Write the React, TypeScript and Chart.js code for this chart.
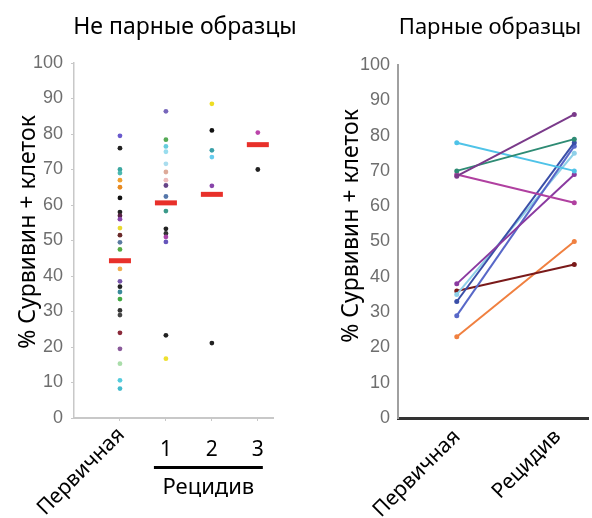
import React, { useEffect, useRef } from 'react';
import { Chart, registerables } from 'chart.js';

Chart.register(...registerables);

// ---------- Data ----------
const leftTitle = 'Не парные образцы';
const rightTitle = 'Парные образцы';
const yAxisTitle = '% Сурвивин + клеток';
const leftCategories = ['Первичная', '1', '2', '3'];
const relapseLabel = 'Рецидив';
const yTicks = [0, 10, 20, 30, 40, 50, 60, 70, 80, 90, 100];

const primaryValues = [79.5, 76, 70, 69, 67, 65, 62, 58, 57, 56, 53.5, 51.5, 49.5, 47.5, 42, 38.5, 37, 35.5, 33.5, 30.3, 29, 24, 19.5, 15.3, 10.6, 8.3];
const primaryColors = ['#6a5acd', '#222222', '#3ba7a0', '#4bb8b0', '#f0a030', '#e88a20', '#111111', '#222222', '#552244', '#8844aa', '#e8d830', '#6b2a2a', '#5a7aa0', '#55aa44', '#f0b050', '#7755aa', '#222222', '#3a8a9a', '#44aa44', '#333333', '#444444', '#8b2a3a', '#8a5a9a', '#aaddaa', '#55ccdd', '#44bbcc'];

const relapse1Values = [86.4, 78.4, 76.5, 75, 71.6, 69.3, 67, 65.5, 62.4, 58.3, 53.3, 52, 51, 49.6, 23.3, 16.7];
const relapse1Colors = ['#7766bb', '#55aa55', '#66ccdd', '#99ddee', '#aaddee', '#ddaa99', '#eebbbb', '#664488', '#5577aa', '#3a9a8a', '#222222', '#333333', '#aa44aa', '#6655bb', '#222222', '#eee030'];

const relapse2Values = [88.5, 81, 75.4, 73.5, 65.4, 21.1];
const relapse2Colors = ['#eedd22', '#111111', '#3aa0a8', '#66ccee', '#8844aa', '#222222'];

const relapse3Values = [80.4, 70];
const relapse3Colors = ['#bb44aa', '#222222'];

const medianValues = [44.3, 60.6, 63, 77];

const pairedCategories = ['Первичная', 'Рецидив'];
const pairedPrimary = [68.5, 70, 78, 69, 38, 33, 29, 35, 36, 23];
const pairedRelapse = [86, 79, 70, 61, 69, 78, 77, 75, 43.5, 50];
const pairedColors = ['#7a3a8a', '#2e8b74', '#4fc3e8', '#b040a0', '#8a3aa0', '#3a4fa8', '#5868c8', '#8fd0e8', '#7a1a1a', '#f08040'];

// ---------- Styles ----------
const W = 592;
const H = 518;
const TEXT_FONT = '"Noto Sans", "Open Sans", sans-serif';
const TICK_FONT = '"Liberation Sans", Arial, sans-serif';

const leftColumns = [primaryValues, relapse1Values, relapse2Values, relapse3Values];
const leftColors = [primaryColors, relapse1Colors, relapse2Colors, relapse3Colors];

const leftTextPlugin = {
  id: 'leftText',
  afterDraw(chart: any) {
    const ctx = chart.ctx;
    const xs = chart.scales.x;
    const bottom = chart.chartArea.bottom;
    ctx.save();
    ctx.fillStyle = '#000';
    ctx.font = `23px ${TEXT_FONT}`;
    ctx.textAlign = 'center';
    ctx.textBaseline = 'alphabetic';
    ctx.fillText(leftTitle, 185, 34);

    ctx.save();
    ctx.translate(28, 232);
    ctx.rotate(-Math.PI / 2);
    ctx.textBaseline = 'middle';
    ctx.font = `23px ${TEXT_FONT}`;
    ctx.fillText(yAxisTitle, 0, 0);
    ctx.restore();

    // rotated primary label
    ctx.save();
    ctx.translate(xs.getPixelForValue(1) - 6, bottom + 6);
    ctx.rotate(-Math.PI / 4);
    ctx.textAlign = 'right';
    ctx.textBaseline = 'top';
    ctx.font = `21px ${TEXT_FONT}`;
    ctx.fillText(leftCategories[0], 0, 0);
    ctx.restore();

    ctx.font = `21px ${TEXT_FONT}`;
    ctx.textAlign = 'center';
    ctx.textBaseline = 'middle';
    for (let i = 1; i < leftCategories.length; i++) {
      ctx.fillText(leftCategories[i], xs.getPixelForValue(i + 1), bottom + 32);
    }
    const x1 = xs.getPixelForValue(2) - 12;
    const x2 = xs.getPixelForValue(4) + 5;
    ctx.fillRect(x1, bottom + 48, x2 - x1, 3);
    ctx.font = `22px ${TEXT_FONT}`;
    ctx.fillText(relapseLabel, (x1 + x2) / 2, bottom + 70);
    ctx.restore();
  },
};

const rightTextPlugin = {
  id: 'rightText',
  afterDraw(chart: any) {
    const ctx = chart.ctx;
    const xs = chart.scales.x;
    const bottom = chart.chartArea.bottom;
    ctx.save();
    ctx.fillStyle = '#000';
    ctx.font = `22px ${TEXT_FONT}`;
    ctx.textAlign = 'center';
    ctx.textBaseline = 'alphabetic';
    ctx.fillText(rightTitle, 490, 34);

    ctx.save();
    ctx.translate(351, 226);
    ctx.rotate(-Math.PI / 2);
    ctx.textBaseline = 'middle';
    ctx.font = `23px ${TEXT_FONT}`;
    ctx.fillText(yAxisTitle, 0, 0);
    ctx.restore();

    const dx = [-7, -24];
    pairedCategories.forEach((label, i) => {
      ctx.save();
      ctx.translate(xs.getPixelForValue(i + 0.5) + dx[i], bottom + 8);
      ctx.rotate(-Math.PI / 4);
      ctx.textAlign = 'right';
      ctx.textBaseline = 'top';
      ctx.font = `21px ${TEXT_FONT}`;
      ctx.fillText(label, 0, 0);
      ctx.restore();
    });
    ctx.restore();
  },
};

function yScale(left: number, borderColor: string, borderWidth: number, tickLen: number) {
  return {
    type: 'linear',
    min: 0,
    max: 100,
    afterBuildTicks(scale: any) {
      scale.ticks = yTicks.map((v) => ({ value: v }));
    },
    afterFit(scale: any) {
      scale.width = left;
    },
    border: { display: true, color: borderColor, width: borderWidth },
    grid: {
      display: true,
      drawOnChartArea: false,
      drawTicks: tickLen > 0,
      tickLength: tickLen,
      color: '#c8c8c8',
    },
    ticks: {
      padding: 8,
      color: '#6e6e6e',
      font: { family: TICK_FONT, size: 18 },
    },
  };
}

export default function App() {
  const leftRef = useRef<HTMLCanvasElement | null>(null);
  const rightRef = useRef<HTMLCanvasElement | null>(null);

  useEffect(() => {
    const scatterSets: any[] = leftColumns.map((vals, ci) => ({
      type: 'scatter',
      data: vals.map((v) => ({ x: ci + 1, y: v })),
      backgroundColor: leftColors[ci],
      borderWidth: 0,
      pointRadius: 2.4,
      pointStyle: 'circle',
    }));
    const medianSet: any = {
      type: 'scatter',
      data: medianValues.map((v, i) => ({ x: i + 1, y: v })),
      pointStyle: 'line',
      pointRadius: 11,
      borderColor: '#e8302a',
      borderWidth: 5,
      backgroundColor: '#e8302a',
    };

    const left = new Chart(leftRef.current!, {
      type: 'scatter',
      data: { datasets: [medianSet, ...scatterSets] },
      options: {
        animation: false,
        responsive: false,
        devicePixelRatio: 1,
        events: [],
        layout: { padding: { left: 0, top: 63, right: W - 273, bottom: H - 418 } },
        plugins: { legend: { display: false }, tooltip: { enabled: false } },
        scales: {
          x: {
            type: 'linear',
            min: 0,
            max: 4.33,
            afterBuildTicks(scale: any) {
              scale.ticks = [1, 2, 3, 4].map((v) => ({ value: v }));
            },
            afterFit(scale: any) {
              scale.height = 0;
            },
            border: { display: true, color: '#c8c8c8', width: 2 },
            grid: { display: true, drawOnChartArea: false, drawTicks: true, tickLength: 3, color: '#c8c8c8' },
            ticks: { display: false },
          },
          y: yScale(74, '#c8c8c8', 1.5, 3) as any,
        },
      } as any,
      plugins: [leftTextPlugin],
    });

    const lineSets: any[] = pairedPrimary.map((p, i) => ({
      data: [
        { x: 0.5, y: p },
        { x: 1.5, y: pairedRelapse[i] },
      ],
      borderColor: pairedColors[i],
      backgroundColor: pairedColors[i],
      borderWidth: 2,
      pointRadius: 2.5,
      pointBorderWidth: 0,
      tension: 0,
    }));

    const right = new Chart(rightRef.current!, {
      type: 'line',
      data: { datasets: lineSets },
      options: {
        animation: false,
        responsive: false,
        devicePixelRatio: 1,
        events: [],
        layout: { padding: { left: 0, top: 65, right: 0, bottom: H - 418 } },
        plugins: { legend: { display: false }, tooltip: { enabled: false } },
        scales: {
          x: {
            type: 'linear',
            min: 0,
            max: (W - 398) / 120,
            afterBuildTicks(scale: any) {
              scale.ticks = [0.5, 1.5].map((v) => ({ value: v }));
            },
            afterFit(scale: any) {
              scale.height = 0;
            },
            border: { display: true, color: '#333333', width: 3 },
            grid: { display: false },
            ticks: { display: false },
          },
          y: yScale(398, '#a0a0a0', 2, 0) as any,
        },
      } as any,
      plugins: [rightTextPlugin],
    });

    return () => {
      left.destroy();
      right.destroy();
    };
  }, []);

  const canvasStyle: React.CSSProperties = { position: 'absolute', left: 0, top: 0, width: W, height: H };
  return (
    <div style={{ position: 'fixed', left: 0, top: 0, width: W, height: H, background: '#fff' }}>
      <canvas ref={leftRef} width={W} height={H} style={canvasStyle} />
      <canvas ref={rightRef} width={W} height={H} style={canvasStyle} />
    </div>
  );
}
